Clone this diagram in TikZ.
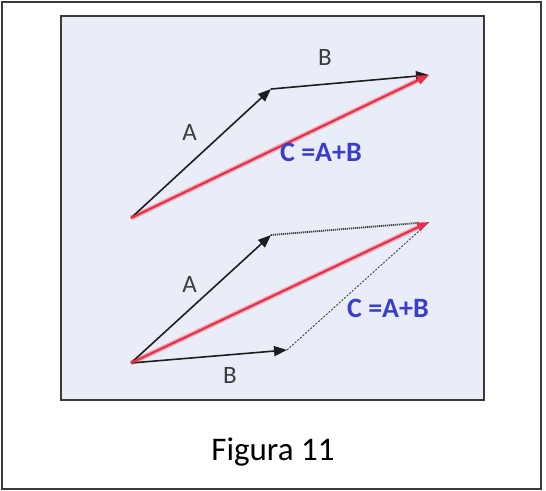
\documentclass[tikz,border=0pt]{standalone}
\usepackage{fontspec}
\setmainfont{Carlito}
\usetikzlibrary{arrows.meta,calc}
\definecolor{framegray}{HTML}{3A3A3A}
\definecolor{boxfill}{HTML}{E9EDF8}
\definecolor{vecblack}{HTML}{1E1E1E}
\definecolor{vecred}{HTML}{E8304A}
\definecolor{vecpink}{HTML}{F2AEBB}
\definecolor{sumblue}{HTML}{3B3FC8}
\definecolor{labgray}{HTML}{3C3C3C}
\definecolor{dotgray}{HTML}{404040}
\tikzset{
  vecb/.style={draw=vecblack, line width=1.6pt, -{Triangle[length=13pt,width=10pt]}},
  vecr/.style={draw=vecred, line width=2.2pt, -{Triangle[length=12pt,width=9pt]}},
  halo/.style={draw=vecpink, line width=5pt, shorten >=8pt},
  dotline/.style={draw=dotgray, line width=1.8pt, dash pattern=on 1.2pt off 0.8pt},
  thindash/.style={draw=dotgray, line width=0.9pt, dash pattern=on 2pt off 1.5pt},
  lab/.style={text=labgray, font=\fontsize{25}{28}\selectfont, inner sep=0pt},
  sumlab/.style={text=sumblue, font=\bfseries\fontsize{28}{30}\selectfont, inner sep=0pt},
}
\begin{document}
\begin{tikzpicture}[x=1pt,y=-1pt]
\useasboundingbox (0,0) rectangle (546,490);
\fill[white] (0,0) rectangle (546,490);
\draw[framegray, line width=2pt] (2,1.5) rectangle (541,488.5);
\draw[framegray, line width=2pt, fill=boxfill] (61,16) rectangle (484,400);
% top: head-to-tail
\coordinate (O1) at (131,218);
\coordinate (A1) at (271,89);
\coordinate (C1) at (429,75);
\draw[halo] (O1) -- (C1);
\draw[vecb] (O1) -- (A1);
\draw[vecb] (A1) -- (C1);
\draw[vecr] (O1) -- (C1);
\node[lab] (la1) at (189.5,132) {A};
\node[lab] (lb1) at (325,57) {B};
\node[sumlab] (lc1) at (321,152.5) {C =A+B};
% bottom: parallelogram
\coordinate (O2) at (131,363);
\coordinate (A2) at (271,235);
\coordinate (B2) at (287,350);
\coordinate (C2) at (429,222);
\draw[halo] (O2) -- (C2);
\draw[vecb] (O2) -- (A2);
\draw[vecb] (O2) -- (B2);
\draw[dotline] (A2) -- ($(C2)!10pt!(A2)$);
\draw[thindash] (B2) -- (C2);
\draw[draw=none, -{Triangle[length=13pt,width=10pt,fill=vecblack]}] (A2) -- (C2);
\draw[vecr] (O2) -- (C2);
\node[lab] (la2) at (189.5,284) {A};
\node[lab] (lb2) at (230,375) {B};
\node[sumlab] (lc2) at (388,308) {C =A+B};
\node[text=black, font=\fontsize{33}{36}\selectfont, inner sep=0pt] (cap) at (273,452) {Figura 11};
\end{tikzpicture}
\end{document}
